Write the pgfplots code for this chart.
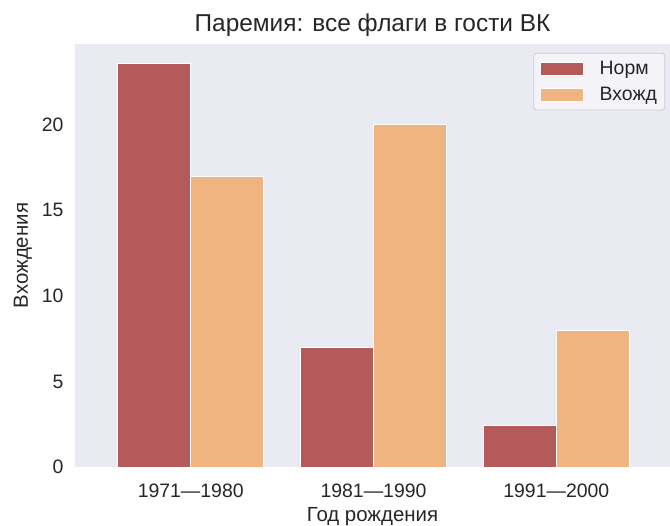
\documentclass[border=0pt]{standalone}
\usepackage{pgfplots}
\pgfplotsset{compat=1.18}
\usepackage{fontspec}
\setmainfont{Liberation Sans}
\definecolor{bg}{HTML}{EAEAF2}
\definecolor{cred}{HTML}{B55A5A}
\definecolor{corange}{HTML}{F0B482}
\definecolor{txt}{HTML}{262626}
\begin{document}
\begin{tikzpicture}
\path[use as bounding box] (-75bp,-59bp) rectangle (595bp,467bp);
\begin{axis}[
  at={(0,0)}, anchor=south west,
  scale only axis, width=595bp, height=423bp,
  xmin=-0.633, xmax=2.622, ymin=0, ymax=24.72,
  axis background/.style={fill=bg},
  axis line style={draw=none},
  tick style={draw=none},
  xtick={0,1,2},
  xticklabels={1971—1980,1981—1990,1991—2000},
  ytick={0,5,10,15,20},
  /pgf/number format/assume math mode=true,
  ticklabel style={font=\fontsize{19.5}{23}\selectfont, text=txt},
  xticklabel style={yshift=-13bp},
  yticklabel style={xshift=-8bp},
  xlabel={Год рождения}, ylabel={Вхождения},
  label style={font=\fontsize{20.5}{24}\selectfont, text=txt},
  xlabel style={yshift=-3bp},
  ylabel style={yshift=3bp},
  title={Паремия: все флаги в гости ВК},
  title style={font=\fontsize{24.5}{29}\selectfont, text=txt, yshift=-2bp},
  legend style={at={(0.992,0.979)}, anchor=north east, draw=black!20, line width=0.8pt, fill=white!50!bg, rounded corners=3bp,
     font=\fontsize{19.5}{23}\selectfont, text=txt, row sep=7bp, inner xsep=6bp, inner ysep=6bp},
  legend cell align=left,
  legend image code/.code={\fill[#1, sharp corners] (0bp,-6.5bp) rectangle (43bp,6.5bp); \path (57bp,0bp);},
]
\addplot[ybar, bar width=0.4, bar shift=-0.2, fill=cred, draw=white, line width=1pt] coordinates {(0,23.6) (1,7.0) (2,2.45)};
\addplot[ybar, bar width=0.4, bar shift=0.2, fill=corange, draw=white, line width=1pt] coordinates {(0,17.0) (1,20.0) (2,8.0)};
\legend{Норм, Вхожд}
\end{axis}
\end{tikzpicture}
\end{document}
